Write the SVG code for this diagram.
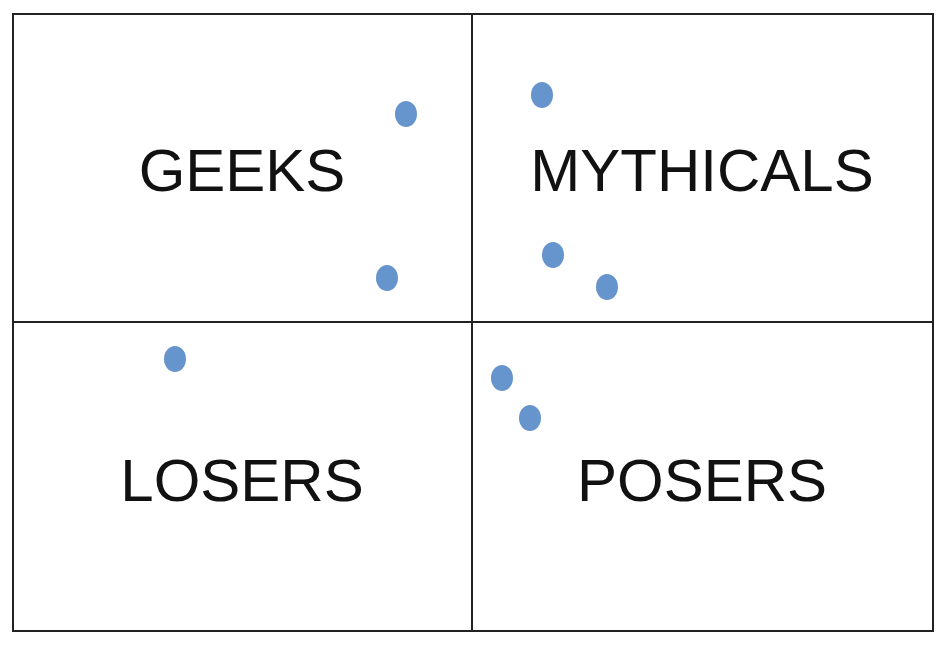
<svg xmlns="http://www.w3.org/2000/svg" width="950" height="648" viewBox="0 0 950 648">
<style>
.l{fill:none;stroke:#222;stroke-width:2}
.t{font-family:"Liberation Sans",Arial,sans-serif;font-size:60px;fill:#111;text-anchor:middle}
.d{fill:#6694cc}
</style>
<rect width="950" height="648" fill="#fff"/>
<g id="grid">
<rect class="l" x="13" y="14" width="920" height="617"/>
<line class="l" x1="472" y1="14" x2="472" y2="631"/>
<line class="l" x1="13" y1="322" x2="933" y2="322"/>
</g>
<g id="labels">
<text class="t" x="242" y="191">GEEKS</text>
<text class="t" x="702" y="191">MYTHICALS</text>
<text class="t" x="242" y="501">LOSERS</text>
<text class="t" x="702" y="501">POSERS</text>
</g>
<g id="points">
<ellipse class="d" cx="406" cy="114" rx="11" ry="13"/>
<ellipse class="d" cx="387" cy="278" rx="11" ry="13"/>
<ellipse class="d" cx="542" cy="95" rx="11" ry="13"/>
<ellipse class="d" cx="553" cy="255" rx="11" ry="13"/>
<ellipse class="d" cx="607" cy="287" rx="11" ry="13"/>
<ellipse class="d" cx="175" cy="359" rx="11" ry="13"/>
<ellipse class="d" cx="502" cy="378" rx="11" ry="13"/>
<ellipse class="d" cx="530" cy="418" rx="11" ry="13"/>
</g>
</svg>
